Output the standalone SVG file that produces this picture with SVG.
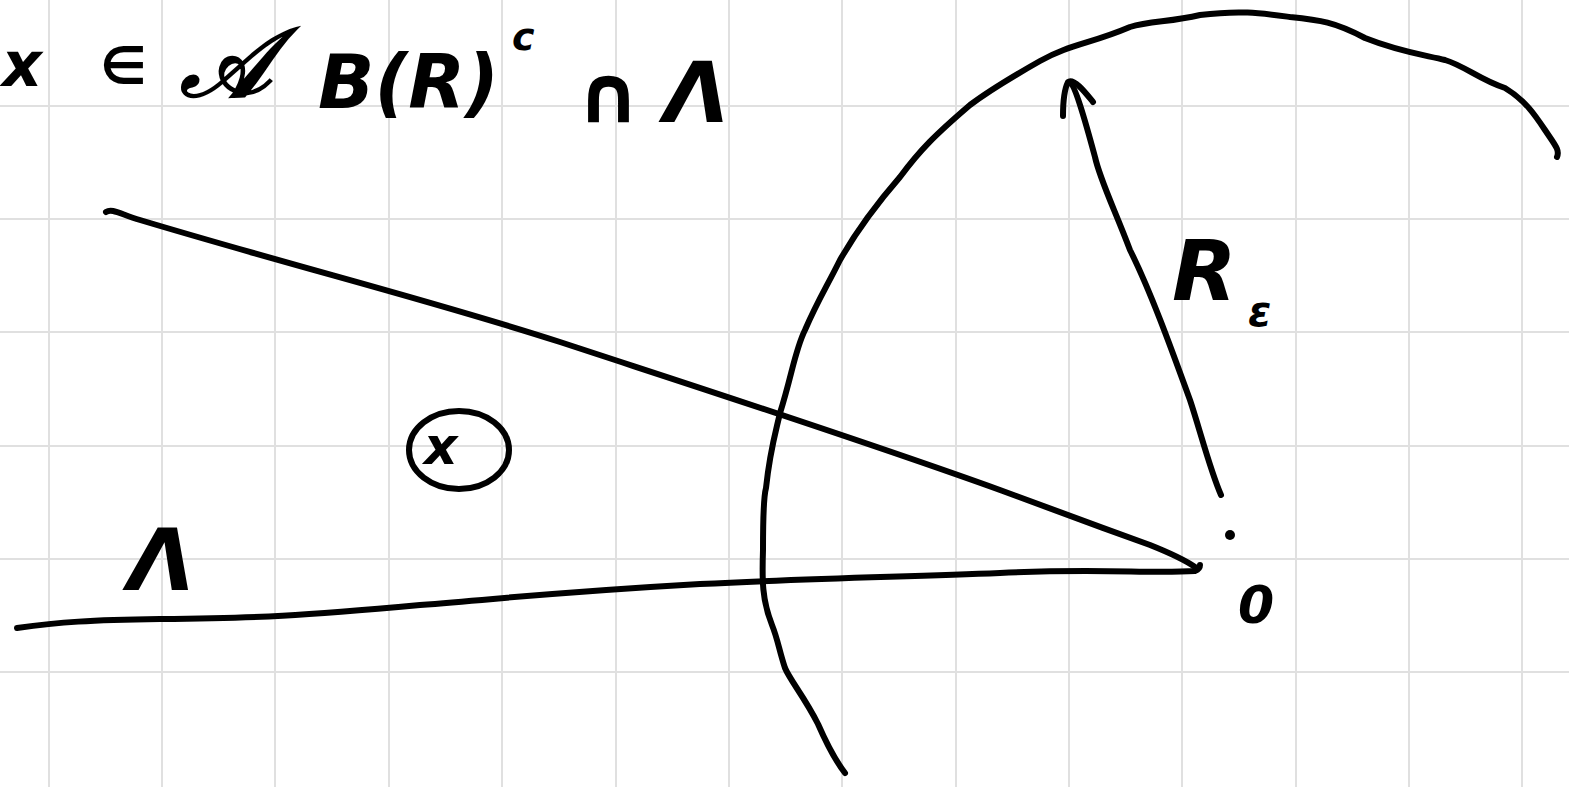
<svg xmlns="http://www.w3.org/2000/svg" width="1569" height="787" viewBox="0 0 1569 787">
<style>
.grid{stroke:#e0e0e0;stroke-width:2;fill:none}
.ink{stroke:#000;stroke-width:6;fill:none;stroke-linecap:round;stroke-linejoin:round}
.t{font-family:"DejaVu Sans",sans-serif;font-style:italic;font-weight:bold;fill:#000}
</style>
<rect width="1569" height="787" fill="#fff"/>
<g id="grid" class="grid">
<path d="M49 0V787M162 0V787M275 0V787M389 0V787M502 0V787M616 0V787M729 0V787M842 0V787M956 0V787M1069 0V787M1182 0V787M1296 0V787M1409 0V787M1522 0V787"/>
<path d="M0 106H1569M0 219H1569M0 332H1569M0 446H1569M0 559H1569M0 672H1569"/>
</g>
<g id="formula">
<text class="t" x="2" y="86" font-size="62">x</text>
<text class="t" x="100" y="84" font-size="52">∈</text>
<text class="t" x="180" y="96" font-size="96" font-family="Liberation Serif" font-weight="bold">𝒜</text>
<text class="t" x="318" y="108" font-size="74">B(R)</text>
<text class="t" x="512" y="50" font-size="38">c</text>
<text class="t" x="576" y="122" font-size="80" font-weight="normal">∩</text>
<text class="t" x="664" y="122" font-size="84">Λ</text>
</g>
<g id="connectors">
<path class="ink" d="M106 212 C112 208 120 214 140 220 C300 268 430 300 560 342 C700 388 850 436 1000 490 C1060 512 1100 527 1150 545 C1170 553 1185 560 1195 567"/>
<path class="ink" d="M17 628 C60 622 90 620 160 619 C260 618 300 616 420 605 C520 597 560 592 700 584 C820 578 900 577 1000 573 C1100 568 1150 574 1195 571 C1200 569 1200 566 1200 565"/>
<path class="ink" d="M845 773 C835 760 825 740 818 724 C805 698 790 680 785 668 C779 650 778 640 772 625 C762 600 762 580 763 550 C763 520 764 495 766 488 C770 450 775 435 780 413 C792 375 795 350 805 330 C818 300 825 290 840 260 C860 225 880 200 900 177 C920 150 935 135 970 105 C990 90 1010 78 1040 61 C1070 44 1090 44 1130 27 C1150 21 1170 22 1200 15 C1240 10 1260 13 1290 17 C1320 20 1335 22 1365 38 C1400 52 1425 55 1445 60 C1465 66 1480 80 1505 88 C1525 100 1535 115 1545 130 C1555 145 1560 150 1557 157"/>
<path class="ink" d="M1221 495 C1210 470 1200 430 1190 400 C1170 345 1150 290 1130 250 C1115 210 1100 180 1095 157 C1085 120 1075 85 1070 83"/>
<path class="ink" d="M1063 116 C1063 100 1064 90 1068 82 C1074 77 1088 96 1093 102"/>
</g>
<g id="origin">
<circle cx="1230" cy="535" r="5" fill="#000"/>
<text class="t" x="1238" y="623" font-size="52">0</text>
</g>
<g id="label-R">
<text class="t" x="1172" y="300" font-size="84">R</text>
<text class="t" x="1248" y="326" font-size="42">ε</text>
</g>
<g id="label-x">
<text class="t" x="424" y="464" font-size="52">x</text>
<ellipse class="ink" cx="459" cy="450" rx="50" ry="39"/>
</g>
<g id="label-Lambda">
<text class="t" x="128" y="590" font-size="86">Λ</text>
</g>
</svg>
